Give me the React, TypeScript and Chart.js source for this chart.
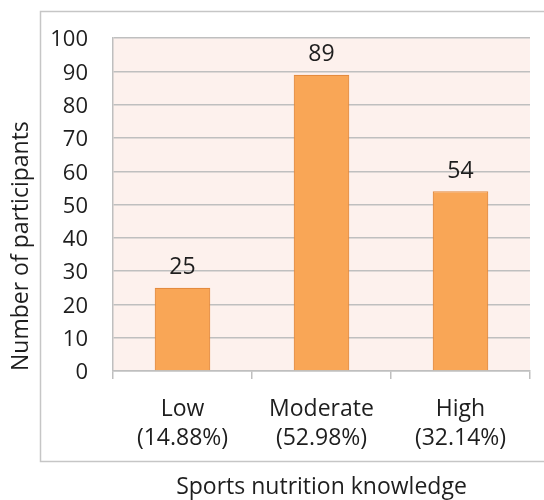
import React, { useEffect, useRef } from "react";
import { Chart, registerables } from "chart.js";

Chart.register(...registerables);

const categories: string[][] = [["Low", "(14.88%)"], ["Moderate", "(52.98%)"], ["High", "(32.14%)"]];
const participants: number[] = [25, 89, 54];
const yTickMax = 100;
const yTickStep = 10;
const xTitle = "Sports nutrition knowledge";
const yTitle = "Number of participants";

const FONT = "'Open Sans', Lato, sans-serif";
const TEXT = "#1e1e1e";
const GRID = "#bfbfbf";

const bgPlugin = {
  id: "bgPlugin",
  beforeDraw(chart: any) {
    const { ctx, chartArea } = chart;
    ctx.save();
    ctx.fillStyle = "#ffffff";
    ctx.fillRect(0, 0, chart.width, chart.height);
    ctx.strokeStyle = "#c6c6c6";
    ctx.lineWidth = 1.5;
    ctx.strokeRect(40.5, 11.5, chart.width + 10, 450);
    ctx.fillStyle = "#fdf1ed";
    ctx.fillRect(chartArea.left, chartArea.top, chartArea.right - chartArea.left, chartArea.bottom - chartArea.top);
    ctx.restore();
  },
};

const labelPlugin = {
  id: "labelPlugin",
  afterDatasetsDraw(chart: any) {
    const { ctx } = chart;
    const meta = chart.getDatasetMeta(0);
    ctx.save();
    ctx.fillStyle = TEXT;
    ctx.font = `23px ${FONT}`;
    ctx.textAlign = "center";
    ctx.textBaseline = "middle";
    meta.data.forEach((bar: any, i: number) => {
      ctx.fillText(String(chart.data.datasets[0].data[i]), bar.x, bar.y - 20);
    });
    ctx.restore();
  },
};

export default function App() {
  const ref = useRef<HTMLCanvasElement>(null);
  useEffect(() => {
    const chart = new Chart(ref.current as HTMLCanvasElement, {
      type: "bar",
      data: {
        labels: categories,
        datasets: [
          {
            data: participants,
            backgroundColor: "#f9a656",
            borderColor: "#e48b3e",
            borderWidth: 1.2,
            barPercentage: 0.4,
            categoryPercentage: 1,
          },
        ],
      },
      options: {
        animation: false,
        responsive: false,
        devicePixelRatio: 1,
        layout: { padding: { left: 0, top: 34, right: 14, bottom: 0 } },
        plugins: { legend: { display: false }, tooltip: { enabled: false } },
        scales: {
          x: {
            afterFit(scale: any) {
              scale.height = 129;
            },
            grid: { drawOnChartArea: false, drawTicks: true, tickLength: 8, color: GRID, lineWidth: 1.5, offset: true },
            border: { display: true, color: GRID, width: 1.5 },
            ticks: { color: TEXT, font: { family: FONT, size: 23, lineHeight: 1.27 }, padding: 16, maxRotation: 0 },
            title: { display: true, text: xTitle, color: TEXT, font: { family: FONT, size: 23, lineHeight: 1.1 }, padding: { top: 0, bottom: 0 } },
          },
          y: {
            min: 0,
            max: yTickMax,
            afterFit(scale: any) {
              scale.width = 113;
            },
            grid: { drawTicks: false, color: GRID, lineWidth: 1.5 },
            border: { display: true, color: GRID, width: 1.5 },
            ticks: { stepSize: yTickStep, color: TEXT, font: { family: FONT, size: 22 }, padding: 25, labelOffset: 2 },
            title: { display: true, text: yTitle, align: "start", color: TEXT, font: { family: FONT, size: 23 }, padding: { top: 8, bottom: 0 } },
          },
        },
      },
      plugins: [bgPlugin, labelPlugin],
    } as any);
    return () => chart.destroy();
  }, []);
  return (
    <div style={{ position: "fixed", left: 0, top: 0, width: 544, height: 500 }}>
      <canvas ref={ref} width={544} height={500} style={{ width: 544, height: 500, display: "block" }} />
    </div>
  );
}
